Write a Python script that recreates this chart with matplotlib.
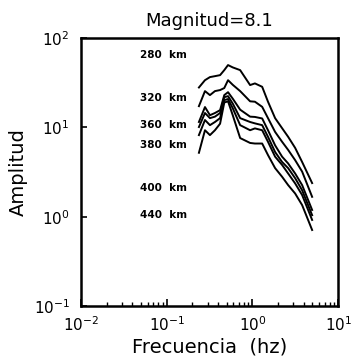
import numpy as np
import matplotlib
matplotlib.use("Agg")
import matplotlib.pyplot as plt

# frecuencias (hz) comunes a todas las curvas
freq = [0.238, 0.28, 0.32, 0.366, 0.42, 0.47, 0.52, 0.59, 0.72, 0.94,
        1.07, 1.30, 1.52, 1.84, 2.22, 2.61, 3.15, 3.8, 4.97]

# amplitudes, una lista por distancia
amp_280 = [28.0, 33.8, 36.6, 37.5, 38.5, 43.8, 49.9, 47.0, 43.8, 29.8,
           31.1, 28.5, 19.4, 12.7, 9.8, 7.85, 5.9, 4.1, 2.38]
amp_320 = [17.3, 25.5, 23.0, 25.5, 26.2, 27.6, 33.8, 30.0, 25.5, 19.6,
           19.4, 17.0, 12.7, 8.9, 6.9, 5.6, 4.3, 3.2, 1.67]
amp_360 = [11.5, 16.9, 13.7, 14.5, 15.6, 23.0, 24.8, 21.0, 15.8, 13.2,
           13.1, 12.6, 9.3, 6.3, 4.7, 3.95, 3.05, 2.26, 1.19]
amp_380 = [10.1, 14.5, 12.7, 13.2, 14.5, 21.8, 22.4, 18.5, 12.7, 11.5,
           11.1, 10.6, 7.85, 5.3, 4.1, 3.5, 2.7, 1.98, 1.04]
amp_400 = [8.2, 12.1, 10.6, 11.5, 12.7, 20.2, 20.8, 16.4, 10.6, 9.3,
           9.75, 9.3, 6.9, 4.7, 3.8, 3.05, 2.36, 1.75, 0.92]
amp_440 = [5.2, 9.3, 8.2, 9.3, 11.0, 19.0, 19.6, 13.7, 7.6, 6.7,
           6.6, 6.6, 4.9, 3.5, 2.8, 2.26, 1.82, 1.35, 0.71]

curvas = [amp_280, amp_320, amp_360, amp_380, amp_400, amp_440]
etiquetas = ["280  km", "320  km", "360  km", "380  km", "400  km", "440  km"]
y_etiquetas = [64.5, 21.3, 10.6, 6.3, 2.09, 1.04]

fig = plt.figure(figsize=(3.53, 3.63), dpi=100)
ax = fig.add_axes([0.229, 0.157, 0.729, 0.738])

for amp in curvas:
    ax.plot(freq, amp, color="black", lw=1.4)

for txt, yv in zip(etiquetas, y_etiquetas):
    ax.text(0.049, yv, txt, fontsize=7.5, fontweight="bold", va="center", ha="left")

ax.set_xscale("log")
ax.set_yscale("log")
ax.set_xlim(1e-2, 1e1)
ax.set_ylim(1e-1, 1e2)

for s in ax.spines.values():
    s.set_linewidth(1.8)

ax.tick_params(axis="x", which="major", direction="in", length=5, width=1.2,
               labelsize=11, pad=7, top=False)
ax.tick_params(axis="x", which="minor", direction="in", length=3, width=1.0, top=False)
ax.tick_params(axis="y", which="major", direction="in", length=4, width=1.2,
               labelsize=11, pad=8, right=False)
ax.tick_params(axis="y", which="minor", left=False, right=False)

ax.set_title("Magnitud=8.1", fontsize=13, pad=9)
ax.set_xlabel("Frecuencia  (hz)", fontsize=14, labelpad=2)
ax.set_ylabel("Amplitud", fontsize=14, labelpad=4)

fig.savefig("out.png", dpi=100)
